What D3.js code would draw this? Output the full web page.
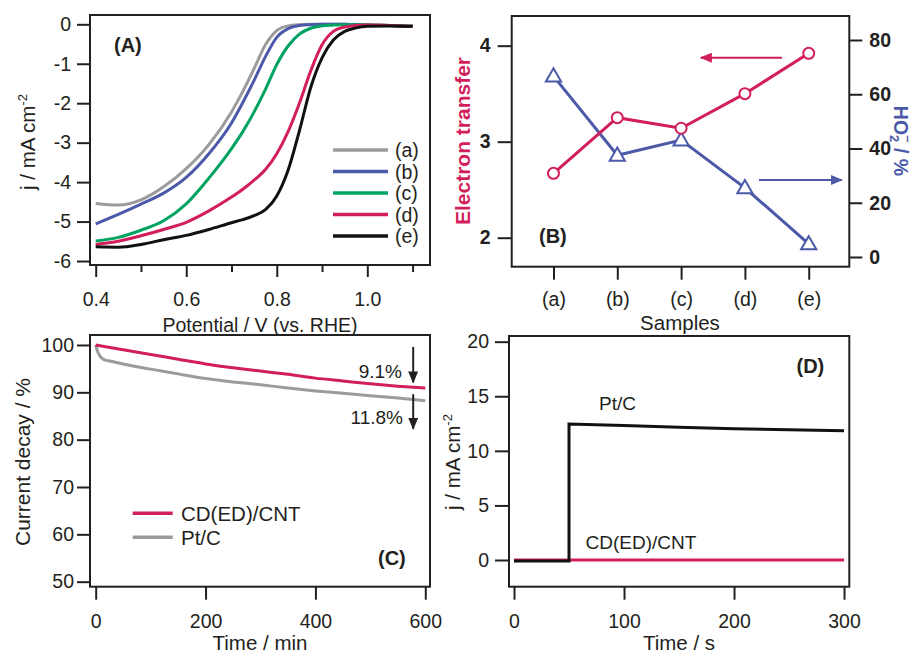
<!DOCTYPE html>
<html>
<head>
<meta charset="utf-8">
<script src="https://cdn.jsdelivr.net/npm/d3@7"></script>
<style>
body { margin: 0; background: #fff; }
svg text { font-family: 'Liberation Sans', Arial, sans-serif; fill: #231f20; }
</style>
</head>
<body>
<div id="svg_wrapper"></div>
<script>
// (A) LSV curves
const potentials = [0.40, 0.45, 0.50, 0.55, 0.60, 0.65, 0.70, 0.725, 0.75, 0.775, 0.80, 0.825, 0.85, 0.875, 0.90, 0.925, 0.95, 0.975, 1.00, 1.05, 1.10];
const lsvA = [-4.54, -4.58, -4.45, -4.12, -3.66, -3.05, -2.22, -1.70, -1.12, -0.52, -0.16, -0.04, -0.01, 0, 0, 0, 0, -0.01, -0.02, -0.03, -0.05];
const lsvB = [-5.06, -4.82, -4.56, -4.28, -3.88, -3.28, -2.50, -1.98, -1.42, -0.82, -0.33, -0.11, -0.03, -0.01, 0, 0, 0, -0.01, -0.02, -0.03, -0.05];
const lsvC = [-5.49, -5.40, -5.22, -4.98, -4.55, -3.90, -3.15, -2.72, -2.22, -1.65, -1.02, -0.55, -0.25, -0.10, -0.04, -0.02, -0.01, -0.01, -0.02, -0.03, -0.05];
const lsvD = [-5.58, -5.50, -5.36, -5.20, -5.02, -4.73, -4.38, -4.18, -3.95, -3.68, -3.28, -2.72, -2.00, -1.18, -0.52, -0.18, -0.07, -0.03, -0.02, -0.03, -0.05];
const lsvE = [-5.64, -5.65, -5.58, -5.46, -5.35, -5.20, -5.03, -4.95, -4.85, -4.70, -4.35, -3.70, -2.70, -1.60, -0.85, -0.40, -0.18, -0.09, -0.05, -0.04, -0.05];
const lsvLabels = ['(a)', '(b)', '(c)', '(d)', '(e)'];
const potentialTicks = [0.4, 0.6, 0.8, 1.0];
const potentialMinor = [0.5, 0.7, 0.9, 1.1];
const currentTicks = [-6, -5, -4, -3, -2, -1, 0];

// (B) electron transfer number and peroxide yield
const samples = ['(a)', '(b)', '(c)', '(d)', '(e)'];
const electronTransfer = [2.67, 3.25, 3.14, 3.50, 3.92];
const peroxideYield = [66.7, 37.5, 43.1, 25.5, 4.8];
const transferTicks = [2, 3, 4];
const peroxideTicks = [0, 20, 40, 60, 80];

// (C) chronoamperometric stability
const cntTime = [0, 50, 100, 150, 200, 250, 300, 350, 400, 450, 500, 550, 600];
const cntDecay = [100, 99.0, 98.0, 97.0, 96.0, 95.2, 94.5, 93.8, 93.0, 92.4, 91.8, 91.3, 90.9];
const ptcTime = [0, 3, 8, 15, 30, 50, 100, 150, 200, 250, 300, 350, 400, 450, 500, 550, 600];
const ptcDecay = [100, 98.8, 97.6, 96.9, 96.5, 96.0, 94.9, 93.9, 92.9, 92.2, 91.6, 90.9, 90.3, 89.8, 89.3, 88.8, 88.2];
const decayTicks = [50, 60, 70, 80, 90, 100];
const minuteTicks = [0, 200, 400, 600];
const decayNotes = ['9.1%', '11.8%'];

// (D) methanol crossover
const crossTimePtc = [0, 50, 50, 100, 150, 200, 250, 300];
const crossPtc = [-0.1, -0.1, 12.45, 12.33, 12.15, 12.03, 11.93, 11.84];
const crossTimeCnt = [0, 300];
const crossCnt = [0, 0];
const crossTicks = [0, 5, 10, 15, 20];
const secondTicks = [0, 100, 200, 300];

const colors = ['#9b9b9d', '#4b59a8', '#00a360', '#d21f5c', '#111'];
const red = '#d21f5c', blue = '#4b59a8', gray = '#9b9b9d', ink = '#231f20';

const width = 917, height = 654;
const tickFont = 19.5, titleFont = 20.5;

const svg = d3.select('#svg_wrapper')
.append('svg')
.attr('width', width)
.attr('height', height);

const defs = svg.append('defs');
[['head_red', red], ['head_blue', blue], ['head_black', ink]].forEach(m => {
    defs
    .append('marker')
    .attr('id', m[0])
    .attr('markerUnits', 'userSpaceOnUse')
    .attr('viewBox', '0 0 12 10')
    .attr('refX', 11)
    .attr('refY', 5)
    .attr('markerWidth', 12)
    .attr('markerHeight', 10)
    .attr('orient', 'auto')
    .append('path')
    .attr('d', 'M0,0 L12,5 L0,10 Z')
    .attr('fill', m[1]);
});

function styleAxis( g, bold ) {
    g.select('.domain').remove();
    g.selectAll('.tick line').attr('stroke', ink).attr('stroke-width', 2);
    g.selectAll('.tick text')
    .attr('font-size', tickFont)
    .attr('font-weight', bold ? 'bold' : 'normal')
    .attr('fill', ink);
}

function frame( x0, y0, x1, y1 ) {
    svg
    .append('rect')
    .attr('x', x0)
    .attr('y', y0)
    .attr('width', x1 - x0)
    .attr('height', y1 - y0)
    .attr('fill', 'none')
    .attr('stroke', ink)
    .attr('stroke-width', 2);
}

function label( x, y, text, opts ) {
    opts = opts || {};
    const t = svg
    .append('text')
    .attr('x', x)
    .attr('y', y)
    .attr('font-size', opts.size || 19)
    .attr('font-weight', opts.bold ? 'bold' : 'normal')
    .attr('text-anchor', opts.anchor || 'start')
    .text(text);
    if(opts.color) t.style('fill', opts.color);
    if(opts.rotate) t.attr('transform', `rotate(${opts.rotate},${x},${y})`);
    return t;
}

function drawPanelA() {
    const x = d3.scaleLinear().domain([0.3874, 1.1385]).range([90, 430]);
    const y = d3.scaleLinear().domain([-6.101, 0.236]).range([265, 15]);

    svg.append('g')
    .attr('transform', 'translate(90,0)')
    .call(d3.axisLeft(y).tickValues(currentTicks).tickSize(13).tickPadding(6).tickFormat(d => String(d)))
    .call(g => styleAxis(g));

    svg.append('g')
    .attr('transform', 'translate(0,265)')
    .call(d3.axisBottom(x).tickValues(potentialTicks).tickSize(12).tickPadding(15).tickFormat(d3.format('.1f')))
    .call(g => styleAxis(g));

    svg.append('g')
    .attr('transform', 'translate(0,265)')
    .call(d3.axisBottom(x).tickValues(potentialMinor).tickSize(7).tickFormat(''))
    .call(g => styleAxis(g));

    const line = d3.line()
    .x((d, i) => x(potentials[i]))
    .y(d => y(d))
    .curve(d3.curveMonotoneX);

    [lsvA, lsvB, lsvC, lsvD, lsvE].forEach((series, i) => {
        svg
        .append('path')
        .attr('d', line(series))
        .attr('fill', 'none')
        .attr('stroke', colors[i])
        .attr('stroke-width', 3);
    });

    // legend
    lsvLabels.forEach((l, i) => {
        const ly = 150 + i * 21.5;
        svg
        .append('line')
        .attr('x1', 333)
        .attr('x2', 388)
        .attr('y1', ly)
        .attr('y2', ly)
        .attr('stroke', colors[i])
        .attr('stroke-width', 3.5);
        label(395, ly + 7, l, { size: tickFont });
    });

    frame(90, 15, 430, 265);
    label(114, 52, '(A)', { bold: true, size: 20 });
    label(260, 332, 'Potential / V (vs. RHE)', { anchor: 'middle', size: 19.5 });

    const yt = label(35, 142, 'j / mA cm', { anchor: 'middle', rotate: -90, size: titleFont });
    yt.append('tspan').attr('font-size', 13).attr('baseline-shift', '65%').text('-2');
}

function drawPanelB() {
    const x = d3.scaleLinear().domain([-0.655, 4.636]).range([511.7, 849.3]);
    const yL = d3.scaleLinear().domain([1.698, 4.309]).range([266.7, 16]);
    const yR = d3.scaleLinear().domain([-3.576, 88.85]).range([266.7, 16]);

    svg.append('g')
    .attr('transform', 'translate(511.7,0)')
    .call(d3.axisLeft(yL).tickValues(transferTicks).tickSize(14).tickPadding(7).tickFormat(d => String(d)))
    .call(g => styleAxis(g, true));

    svg.append('g')
    .attr('transform', 'translate(849.3,0)')
    .call(d3.axisRight(yR).tickValues(peroxideTicks).tickSize(13).tickPadding(7).tickFormat(d => String(d)))
    .call(g => styleAxis(g, true));

    svg.append('g')
    .attr('transform', 'translate(0,266.7)')
    .call(d3.axisBottom(x).tickValues(d3.range(samples.length)).tickSize(13).tickPadding(12).tickFormat(i => samples[i]))
    .call(g => styleAxis(g));

    const lineL = d3.line().x((d, i) => x(i)).y(d => yL(d));
    const lineR = d3.line().x((d, i) => x(i)).y(d => yR(d));

    svg
    .append('path')
    .attr('d', lineR(peroxideYield))
    .attr('fill', 'none')
    .attr('stroke', blue)
    .attr('stroke-width', 3);

    svg
    .append('path')
    .attr('d', lineL(electronTransfer))
    .attr('fill', 'none')
    .attr('stroke', red)
    .attr('stroke-width', 3);

    svg
    .selectAll('.tri')
    .data(peroxideYield)
    .enter()
    .append('path')
    .attr('class', 'tri')
    .attr('d', d3.symbol().type(d3.symbolTriangle).size(100))
    .attr('transform', (d, i) => `translate(${x(i)},${yR(d) + 1})`)
    .attr('fill', '#fff')
    .attr('stroke', blue)
    .attr('stroke-width', 2);

    svg
    .selectAll('.circ')
    .data(electronTransfer)
    .enter()
    .append('circle')
    .attr('class', 'circ')
    .attr('cx', (d, i) => x(i))
    .attr('cy', d => yL(d))
    .attr('r', 5.5)
    .attr('fill', '#fff')
    .attr('stroke', red)
    .attr('stroke-width', 2);

    // arrows pointing at the matching axis
    svg
    .append('line')
    .attr('x1', x(3.58))
    .attr('x2', x(2.31))
    .attr('y1', yL(3.875))
    .attr('y2', yL(3.875))
    .attr('stroke', red)
    .attr('stroke-width', 2)
    .attr('marker-end', 'url(#head_red)');

    svg
    .append('line')
    .attr('x1', x(3.22))
    .attr('x2', x(4.52))
    .attr('y1', yR(28.4))
    .attr('y2', yR(28.4))
    .attr('stroke', blue)
    .attr('stroke-width', 2)
    .attr('marker-end', 'url(#head_blue)');

    frame(511.7, 16, 849.3, 266.7);
    label(539, 243, '(B)', { bold: true, size: 20 });
    label(680, 330, 'Samples', { anchor: 'middle', size: titleFont });
    label(470, 141, 'Electron transfer', { anchor: 'middle', rotate: -90, bold: true, color: red, size: 21 });

    const rt = label(894, 141, 'HO', { anchor: 'middle', rotate: 90, bold: true, color: blue, size: 19.5 });
    rt.append('tspan').attr('font-size', 13).attr('baseline-shift', '-30%').text('2');
    rt.append('tspan').attr('font-size', 13).attr('dx', -7).attr('baseline-shift', '75%').text('\u2013');
    rt.append('tspan').text(' / %');
}

function drawPanelC() {
    const x = d3.scaleLinear().domain([-10.38, 608.6]).range([90, 430]);
    const y = d3.scaleLinear().domain([48.94, 102.11]).range([586.7, 335]);

    svg.append('g')
    .attr('transform', 'translate(90,0)')
    .call(d3.axisLeft(y).tickValues(decayTicks).tickSize(13).tickPadding(3))
    .call(g => styleAxis(g));

    svg.append('g')
    .attr('transform', 'translate(0,586.7)')
    .call(d3.axisBottom(x).tickValues(minuteTicks).tickSize(13).tickPadding(14))
    .call(g => styleAxis(g));

    const line = d3.line().curve(d3.curveMonotoneX);

    svg
    .append('path')
    .attr('d', line(ptcTime.map((t, i) => [x(t), y(ptcDecay[i])])))
    .attr('fill', 'none')
    .attr('stroke', gray)
    .attr('stroke-width', 3);

    svg
    .append('path')
    .attr('d', line(cntTime.map((t, i) => [x(t), y(cntDecay[i])])))
    .attr('fill', 'none')
    .attr('stroke', red)
    .attr('stroke-width', 3);

    // decay arrows
    [[99.6, 92.1], [89.6, 82.3]].forEach(a => {
        svg
        .append('line')
        .attr('x1', x(578))
        .attr('x2', x(578))
        .attr('y1', y(a[0]))
        .attr('y2', y(a[1]))
        .attr('stroke', ink)
        .attr('stroke-width', 2)
        .attr('marker-end', 'url(#head_black)');
    });
    label(402, 378, decayNotes[0], { anchor: 'end' });
    label(403, 424, decayNotes[1], { anchor: 'end' });

    // legend
    [[red, 'CD(ED)/CNT', 513.3], [gray, 'Pt/C', 537.3]].forEach(l => {
        svg
        .append('line')
        .attr('x1', 132.7)
        .attr('x2', 172.7)
        .attr('y1', l[2])
        .attr('y2', l[2])
        .attr('stroke', l[0])
        .attr('stroke-width', 3.5);
        label(181, l[2] + 7.5, l[1], { size: 20.5 });
    });

    frame(90, 335, 430, 586.7);
    label(378, 565, '(C)', { bold: true, size: 20 });
    label(260, 650, 'Time / min', { anchor: 'middle', size: titleFont });
    label(30, 462, 'Current decay / %', { anchor: 'middle', rotate: -90, size: 21 });
}

function drawPanelD() {
    const x = d3.scaleLinear().domain([-4.55, 304.8]).range([509, 849.3]);
    const y = d3.scaleLinear().domain([-2.446, 20.52]).range([586.7, 336]);

    svg.append('g')
    .attr('transform', 'translate(509,0)')
    .call(d3.axisLeft(y).tickValues(crossTicks).tickSize(14).tickPadding(6))
    .call(g => styleAxis(g));

    svg.append('g')
    .attr('transform', 'translate(0,586.7)')
    .call(d3.axisBottom(x).tickValues(secondTicks).tickSize(13).tickPadding(14))
    .call(g => styleAxis(g));

    const line = d3.line();

    svg
    .append('path')
    .attr('d', line(crossTimeCnt.map((t, i) => [x(t), y(crossCnt[i])])))
    .attr('fill', 'none')
    .attr('stroke', red)
    .attr('stroke-width', 3);

    svg
    .append('path')
    .attr('d', line(crossTimePtc.map((t, i) => [x(t), y(crossPtc[i])])))
    .attr('fill', 'none')
    .attr('stroke', '#111')
    .attr('stroke-width', 3);

    frame(509, 336, 849.3, 586.7);
    label(599, 410, 'Pt/C');
    label(585.5, 549, 'CD(ED)/CNT');
    label(796.5, 373, '(D)', { bold: true, size: 20 });
    label(679, 650, 'Time / s', { anchor: 'middle', size: titleFont });

    const yt = label(460, 462, 'j / mA cm', { anchor: 'middle', rotate: -90, size: titleFont });
    yt.append('tspan').attr('font-size', 13).attr('baseline-shift', '65%').text('-2');
}

drawPanelA();
drawPanelB();
drawPanelC();
drawPanelD();
</script>
</body>
</html>
